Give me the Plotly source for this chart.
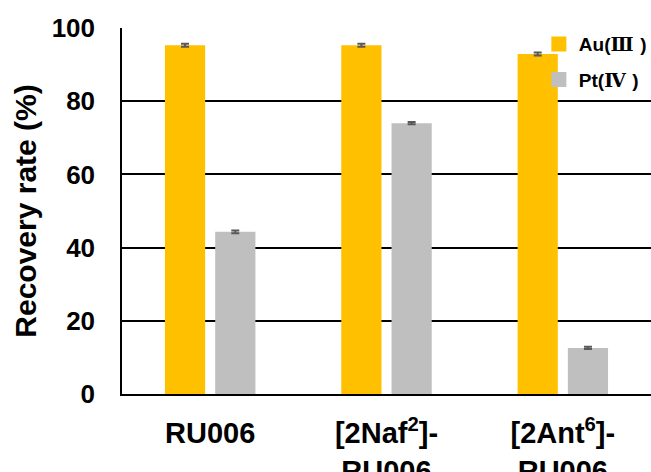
import plotly.graph_objects as go

# Recovery of precious metals by each adsorbent
categories = ["RU006", "[2Naf²]-RU006", "[2Ant⁶]-RU006"]
tick_labels = ["RU006", "[2Naf<sup>2</sup>]-<br>RU006", "[2Ant<sup>6</sup>]-<br>RU006"]
au_recovery = [95.3, 95.3, 92.9]
au_error = [0.4, 0.4, 0.4]
pt_recovery = [44.3, 74.0, 12.6]
pt_error = [0.4, 0.3, 0.3]
series_names = [
    'Au(<span style="font-family:DejaVu Serif">Ⅲ </span>)',
    'Pt(<span style="font-family:DejaVu Serif">Ⅳ </span>)',
]

AU_COLOR = "#FFC000"
PT_COLOR = "#BFBFBF"
ERR_COLOR = "#595959"
FONT = "Arial, 'Liberation Sans', sans-serif"

fig = go.Figure()

for name, vals, errs, color in [
    (series_names[0], au_recovery, au_error, AU_COLOR),
    (series_names[1], pt_recovery, pt_error, PT_COLOR),
]:
    fig.add_trace(go.Bar(
        x=categories, y=vals, name=name, marker_color=color,
        marker_line_width=0, showlegend=False,
        error_y=dict(type="data", array=errs, visible=True,
                     color=ERR_COLOR, thickness=2, width=4),
    ))
    # square legend swatch
    fig.add_trace(go.Scatter(
        x=[None], y=[None], mode="markers", name=name, legendgroup=name,
        marker=dict(symbol="square", size=15, color=color),
    ))

fig.update_layout(
    width=651, height=472,
    margin=dict(l=122, r=0, t=28, b=78, autoexpand=False),
    paper_bgcolor="white", plot_bgcolor="white",
    barmode="group", bargap=0.43, bargroupgap=0.2,
    font=dict(family=FONT, color="black"),
    legend=dict(
        x=0.788, y=1.008, xanchor="left", yanchor="top",
        bgcolor="rgba(0,0,0,0)", tracegroupgap=8,
        font=dict(size=19, weight="bold"),
        itemwidth=30,
    ),
)

fig.update_xaxes(
    tickvals=categories, ticktext=tick_labels,
    tickfont=dict(size=29, weight="bold"),
    ticklabelstandoff=12, automargin=False,
    showline=True, linecolor="black", linewidth=2,
    showgrid=False, ticks="",
)
fig.update_yaxes(
    range=[0, 100], tickvals=[0, 20, 40, 60, 80, 100],
    tickfont=dict(size=26, weight="bold"),
    ticklabelstandoff=20, automargin=False,
    showline=True, linecolor="black", linewidth=1.5,
    showgrid=True, gridcolor="black", gridwidth=1.5,
    zeroline=False, ticks="",
    title=dict(text="Recovery rate (%)", font=dict(size=30, weight="bold"), standoff=6),
)

fig.write_html("out.html")
